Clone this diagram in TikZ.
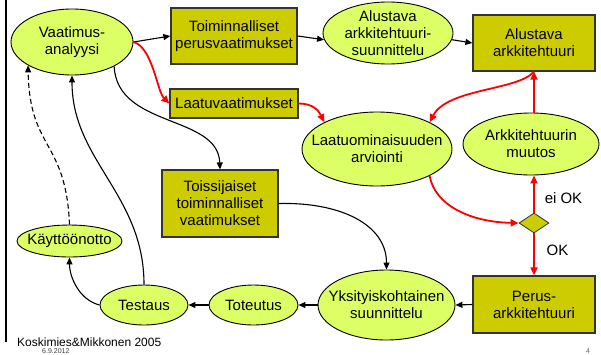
\documentclass[tikz,border=0pt]{standalone}
\usepackage{fontspec}
\setmainfont{Liberation Sans}
\usetikzlibrary{arrows.meta,shapes.geometric}
\definecolor{ovalfill}{RGB}{221,255,102}
\definecolor{boxfill}{RGB}{204,204,0}
\newcommand{\bigtxt}{\fontsize{15}{17}\selectfont}
\tikzset{
  txt/.style={align=center, font=\bigtxt, inner sep=0pt},
  oval/.style={ellipse, draw=black, line width=0.9pt, fill=ovalfill, inner sep=0pt},
  box/.style={rectangle, draw=black!80, line width=1.2pt, fill=boxfill, inner sep=0pt, align=center, font=\bigtxt},
  flow/.style={draw=black, line width=1.1pt, -{Triangle[length=7pt,width=6pt]}},
  redflow/.style={draw=red, line width=1.8pt, -{Triangle[length=8pt,width=7pt]}},
  foot/.style={anchor=base west, inner sep=0pt},
}
\begin{document}
\begin{tikzpicture}[x=1pt,y=-1pt]
\useasboundingbox (0,0) rectangle (601,354);
\fill[white] (0,0) rectangle (601,354);
% left margin rule
\draw[line width=2pt] (6,0) -- (6,342);

% process ovals
\node[oval, minimum width=122, minimum height=66, label={[txt]center:Vaatimus-\\analyysi}] (va) at (72,42) {};
\node[oval, minimum width=130, minimum height=62, label={[txt]center:Alustava\\arkkitehtuuri-\\suunnittelu}] (as) at (388,33) {};
\node[oval, minimum width=150, minimum height=74, label={[txt]center:Laatuominaisuuden\\arviointi}] (lo) at (377,149) {};
\node[oval, minimum width=136, minimum height=62, label={[txt]center:Arkkitehtuurin\\muutos}] (am) at (531,144) {};
\node[oval, minimum width=137, minimum height=70, label={[txt]center:Yksityiskohtainen\\suunnittelu}] (yk) at (386.5,305) {};
\node[oval, minimum width=89, minimum height=40, label={[txt]center:Toteutus}] (to) at (253.5,305) {};
\node[oval, minimum width=88, minimum height=40, label={[txt]center:Testaus}] (te) at (144,305) {};
\node[oval, minimum width=105, minimum height=32, label={[txt]center:Käyttöönotto}] (ka) at (69.5,241) {};

% artefact boxes
\node[box, minimum width=126, minimum height=56] (toim) at (234,36) {Toiminnalliset\\perusvaatimukset};
\node[box, minimum width=128, minimum height=29] (lv) at (234,103.5) {Laatuvaatimukset};
\node[box, minimum width=122, minimum height=56] (aa) at (534,43) {Alustava\\arkkitehtuuri};
\node[box, minimum width=116, minimum height=67] (ts) at (220,203.5) {Toissijaiset\\toiminnalliset\\vaatimukset};
\node[box, minimum width=122, minimum height=57] (pa) at (534,304.5) {Perus-\\arkkitehtuuri};

% decision
\node[diamond, draw=black!80, line width=0.8pt, fill=boxfill, minimum width=30, minimum height=20, inner sep=0pt] (dia) at (534,223) {};
\node[txt] (eiok) at (563.5,198) {ei OK};
\node[txt] (ok) at (557.5,250) {OK};

% main flow
\draw[flow] (va.east) -- (toim.west);
\draw[flow] (toim.east) -- (as.186);
\draw[flow] (as.-6) -- (aa.west);
\draw[flow] (pa.west) -- (yk.east);
\draw[flow] (yk.west) -- (to.east);
\draw[flow] (to.west) -- (te.east);
\draw[flow] (te.west) .. controls +(-20,-5) and +(0,20) .. (ka.south);
\draw[flow] (te.north) .. controls +(0,-90) and +(0,85) .. (va.south);
\draw[flow, dashed, dash pattern=on 5pt off 3pt] (ka.north) .. controls +(-3.5,-85) and +(1.5,85) .. (va.208);
\draw[flow] (va.-30) .. controls +(3,62) and +(-2,-55) .. (ts.north);
\draw[flow] (ts.east) .. controls +(62,-1.5) and +(0,-45) .. (yk.north);

% quality loop
\draw[redflow] (va.east) .. controls +(19,5) and +(-12,-11.5) .. (lv.west);
\draw[redflow] (lv.east) .. controls +(14,0) and +(-6,-12) .. (lo.153);
\draw[redflow] (aa.south) .. controls +(-16,19) and +(18,-34) .. (lo.27);
\draw[redflow] (lo.-27) .. controls +(5,29) and +(-49,-1) .. (dia.west);
\draw[redflow] (dia.north) -- (dia.north |- am.south);
\draw[redflow] (dia.south) -- (pa.north);
\draw[redflow] (am.north -| aa.south) -- (aa.south);

% footer
\node[foot, font=\fontsize{12}{14}\selectfont] (src) at (17,346) {Koskimies\&Mikkonen 2005};
\node[foot, font=\fontsize{7}{8}\selectfont, text=black!75] (date) at (42,353.5) {6.9.2012};
\node[foot, font=\fontsize{7}{8}\selectfont, text=black!60] (page) at (586,353) {4};
\end{tikzpicture}
\end{document}
